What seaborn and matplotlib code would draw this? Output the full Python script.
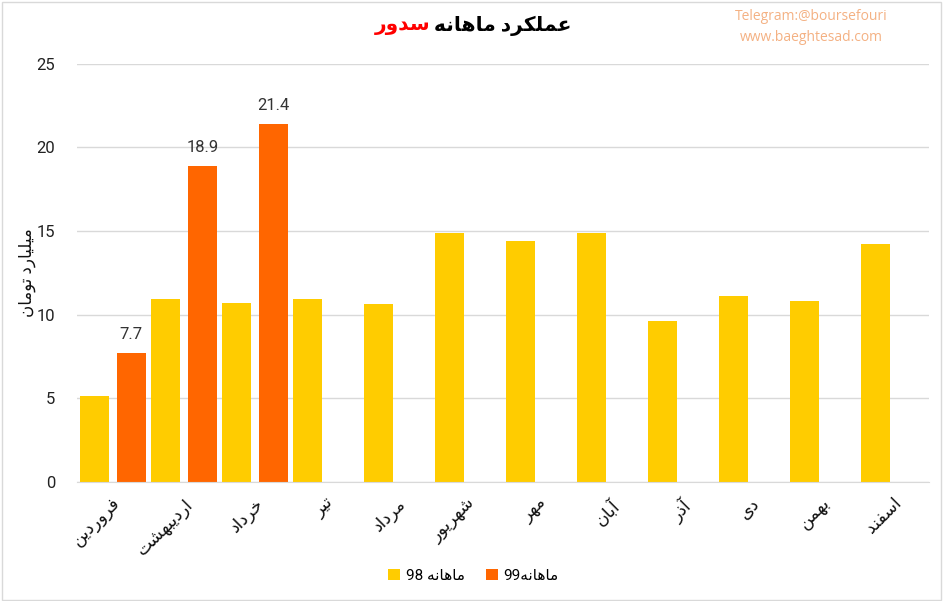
import re
import unicodedata

import matplotlib
matplotlib.use("Agg")
import matplotlib.pyplot as plt
import numpy as np
import pandas as pd
import seaborn as sns
from matplotlib.patches import Rectangle

# داده ها (میلیارد تومان)
months = ['فروردین', 'اردیبهشت', 'خرداد', 'تیر', 'مرداد', 'شهریور',
          'مهر', 'آبان', 'آذر', 'دی', 'بهمن', 'اسفند']
sales_98 = [5.1, 10.9, 10.7, 10.9, 10.6, 14.9, 14.4, 14.9, 9.6, 11.1, 10.8, 14.2]
sales_99 = [7.7, 18.9, 21.4] + [np.nan] * 9
series_names = ['ماهانه 98', 'ماهانه99']
title_black = 'عملکرد ماهانه'
title_red = 'سدور'
y_label = 'میلیارد تومان'

# matplotlib 3.10 does no arabic shaping, so do it by hand with presentation forms
# (isolated, final, initial, medial); None = letter doesn't join to the next one
FORMS = {
    '\u0627': ('\uFE8D', '\uFE8E', None, None),
    '\u0622': ('\uFE81', '\uFE82', None, None),
    '\u0628': ('\uFE8F', '\uFE90', '\uFE91', '\uFE92'),
    '\u062A': ('\uFE95', '\uFE96', '\uFE97', '\uFE98'),
    '\u062E': ('\uFEA5', '\uFEA6', '\uFEA7', '\uFEA8'),
    '\u062F': ('\uFEA9', '\uFEAA', None, None),
    '\u0630': ('\uFEAB', '\uFEAC', None, None),
    '\u0631': ('\uFEAD', '\uFEAE', None, None),
    '\u0632': ('\uFEAF', '\uFEB0', None, None),
    '\u0633': ('\uFEB1', '\uFEB2', '\uFEB3', '\uFEB4'),
    '\u0634': ('\uFEB5', '\uFEB6', '\uFEB7', '\uFEB8'),
    '\u0639': ('\uFEC9', '\uFECA', '\uFECB', '\uFECC'),
    '\u0641': ('\uFED1', '\uFED2', '\uFED3', '\uFED4'),
    '\u0643': ('\uFED9', '\uFEDA', '\uFEDB', '\uFEDC'),
    '\u0644': ('\uFEDD', '\uFEDE', '\uFEDF', '\uFEE0'),
    '\u0645': ('\uFEE1', '\uFEE2', '\uFEE3', '\uFEE4'),
    '\u0646': ('\uFEE5', '\uFEE6', '\uFEE7', '\uFEE8'),
    '\u0647': ('\uFEE9', '\uFEEA', '\uFEEB', '\uFEEC'),
    '\u0648': ('\uFEED', '\uFEEE', None, None),
    '\u064A': ('\uFEF1', '\uFEF2', '\uFEF3', '\uFEF4'),
    '\u06A9': ('\uFB8E', '\uFB8F', '\uFB90', '\uFB91'),
    '\u06CC': ('\uFBFC', '\uFBFD', '\uFBFE', '\uFBFF'),
}


def fa(text):
    chars = list(unicodedata.normalize('NFC', text))
    out = []
    for i, c in enumerate(chars):
        if c not in FORMS:
            out.append(c)
            continue
        iso, fin, ini, med = FORMS[c]
        prev = chars[i - 1] if i > 0 else ''
        nxt = chars[i + 1] if i + 1 < len(chars) else ''
        jp = prev in FORMS and FORMS[prev][2] is not None
        jn = nxt in FORMS and ini is not None
        if jp and jn:
            out.append(med)
        elif jp:
            out.append(fin)
        elif jn:
            out.append(ini)
        else:
            out.append(iso)
    # rtl visual order, digit runs stay left to right
    tokens = re.findall(r'[0-9A-Za-z.]+|[^0-9A-Za-z.]+', ''.join(out))
    return ''.join(t if re.match(r'[0-9A-Za-z.]', t) else t[::-1]
                   for t in reversed(tokens))


df = pd.DataFrame({
    'month': months * 2,
    'series': [series_names[0]] * 12 + [series_names[1]] * 12,
    'value': sales_98 + sales_99,
})

plt.rcParams['font.family'] = ['Roboto', 'DejaVu Sans']

fig, ax = plt.subplots(figsize=(9.47, 6.01), dpi=100)
fig.subplots_adjust(left=0.0818, right=0.9815, bottom=0.1985, top=0.894)

sns.barplot(data=df, x='month', y='value', hue='series', order=months,
            hue_order=series_names, palette=['#FFCC00', '#FF6600'],
            width=1.04, gap=0.215, saturation=1, ax=ax)

ax.set_xlim(-0.5, 11.5)
ax.set_ylim(0, 25)
ax.set_yticks([0, 5, 10, 15, 20, 25])
ax.yaxis.grid(True, color='#D9D9D9', lw=1)
ax.set_axisbelow(True)
for s in ['top', 'right', 'left']:
    ax.spines[s].set_visible(False)
ax.spines['bottom'].set_color('#D9D9D9')
ax.tick_params(axis='both', length=0, colors='#222222')
ax.tick_params(axis='y', pad=16, labelsize=12)
ax.tick_params(axis='x', pad=10)

ax.set_xticks(range(12))
ax.set_xticklabels([fa(m) for m in months], rotation=45, ha='right',
                   rotation_mode='anchor', fontsize=12.5, color='#111111')
ax.set_xlabel('')
ax.set_ylabel(fa(y_label), fontsize=12, color='#111111', labelpad=0)

ax.bar_label(ax.containers[1], fmt='%.1f', padding=8, fontsize=12, color='#333333')

handles, labels = ax.get_legend_handles_labels()
ax.get_legend().remove()
fig.legend(handles, [fa(l) for l in labels], loc='center', bbox_to_anchor=(0.5, 0.042),
           ncol=2, frameon=False, fontsize=11, handlelength=0.75, handleheight=0.75,
           handletextpad=0.4, columnspacing=1.4)

# title: red company name sits left of the black part
fig.text(0.4543, 0.957, fa(title_red), ha='right', va='center', fontsize=14.5,
         fontweight='bold', color='#FF0000')
fig.text(0.4583, 0.957, fa(title_black), ha='left', va='center', fontsize=14.5,
         fontweight='bold', color='#000000')

fig.text(0.857, 0.972, 'Telegram:@boursefouri', ha='center', va='center',
         fontsize=10, color='#F4B183', family='Open Sans')
fig.text(0.857, 0.938, 'www.baeghtesad.com', ha='center', va='center',
         fontsize=10, color='#F4B183', family='Open Sans')

fig.patches.append(Rectangle((0.002, 0.002), 0.992, 0.995, transform=fig.transFigure,
                             fill=False, ec='#D9D9D9', lw=1))

fig.savefig('out.png', dpi=100)
